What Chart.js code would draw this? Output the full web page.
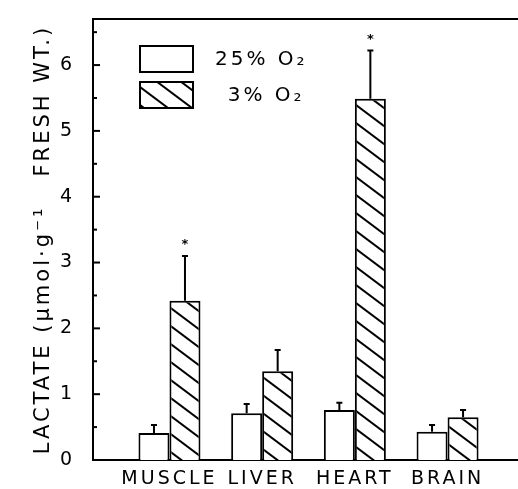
<!DOCTYPE html>
<html>
<head>
<meta charset="utf-8">
<script src="https://cdn.jsdelivr.net/npm/chart.js@4.4.1/dist/chart.umd.min.js"></script>
<style>
    html, body { margin: 0; padding: 0; background: #fff; }
    #wrap { width: 518px; height: 489px; }
</style>
</head>
<body>
<div id="wrap"><canvas id="lactateChart"></canvas></div>
<script>
// values
const tissues = ['MUSCLE', 'LIVER', 'HEART', 'BRAIN'];
const seriesLabels = ['25% O₂', '3% O₂'];
const normoxia = [0.41, 0.71, 0.76, 0.43];      // 25% O2
const normoxiaErr = [0.12, 0.14, 0.11, 0.10];
const hypoxia = [2.42, 1.35, 5.49, 0.65];       // 3% O2
const hypoxiaErr = [0.68, 0.32, 0.73, 0.11];
const hypoxiaSig = [true, false, true, false];  // asterisks

const FONT = "'DejaVu Sans', sans-serif";
const canvas = document.getElementById('lactateChart');
const ctx = canvas.getContext('2d');

function makeHatch() {
    const tile = document.createElement('canvas');
    tile.width = 24;
    tile.height = 18;
    const g = tile.getContext('2d');
    g.fillStyle = '#fff';
    g.fillRect(0, 0, 24, 18);
    g.strokeStyle = '#000';
    g.lineWidth = 2;
    [-18, 0, 18].forEach(off => {
        g.beginPath();
        g.moveTo(-2, off - 1.5);
        g.lineTo(26, off + 19.5);
        g.stroke();
    });
    return ctx.createPattern(tile, 'repeat');
}

const toPoints = arr => arr.map((v, i) => ({ x: i + 1, y: v }));

// wide letter spacing like the lettering of the figure
const spacing = {
    id: 'spacing',
    beforeUpdate(chart) { chart.ctx.letterSpacing = '3px'; },
    beforeDraw(chart) { chart.ctx.letterSpacing = '3px'; }
};

// top frame line and inward ticks on the y axis
const frame = {
    id: 'frame',
    afterDraw(chart) {
        const c = chart.ctx;
        const area = chart.chartArea;
        const y = chart.scales.y;
        c.save();
        c.strokeStyle = '#000';
        c.lineWidth = 2;
        c.beginPath();
        c.moveTo(area.left, area.top);
        c.lineTo(area.right, area.top);
        c.stroke();
        y.ticks.forEach(t => {
            const py = y.getPixelForValue(t.value);
            const len = Number.isInteger(t.value) ? 7 : 4;
            c.beginPath();
            c.moveTo(area.left, py);
            c.lineTo(area.left + len, py);
            c.stroke();
        });
        c.restore();
    }
};

// upper SD bars and asterisks
const errorBars = {
    id: 'errorBars',
    afterDatasetsDraw(chart) {
        const c = chart.ctx;
        const y = chart.scales.y;
        const errs = [normoxiaErr, hypoxiaErr];
        c.save();
        c.strokeStyle = '#000';
        c.fillStyle = '#000';
        c.lineWidth = 2;
        c.letterSpacing = '0px';
        c.font = 'bold 13px ' + FONT;
        c.textAlign = 'center';
        c.textBaseline = 'middle';
        chart.data.datasets.forEach((ds, d) => {
            chart.getDatasetMeta(d).data.forEach((bar, i) => {
                const top = y.getPixelForValue(ds.data[i].y + errs[d][i]);
                c.beginPath();
                c.moveTo(bar.x, bar.y);
                c.lineTo(bar.x, top);
                c.moveTo(bar.x - 3, top);
                c.lineTo(bar.x + 3, top);
                c.stroke();
                if (d === 1 && hypoxiaSig[i]) {
                    c.fillText('*', bar.x, top - 11);
                }
            });
        });
        c.restore();
    }
};

// legend boxes inside the plot, like the original
const boxLegend = {
    id: 'boxLegend',
    afterDraw(chart) {
        const c = chart.ctx;
        c.save();
        c.font = '20px ' + FONT;
        c.textBaseline = 'middle';
        const shift = c.measureText('2').width - 3;
        chart.data.datasets.forEach((ds, d) => {
            const bx = 140, by = 46 + d * 36;
            c.fillStyle = ds.backgroundColor;
            c.fillRect(bx, by, 53, 26);
            c.strokeStyle = '#000';
            c.lineWidth = 2;
            c.strokeRect(bx, by, 53, 26);
            c.fillStyle = '#000';
            c.fillText(ds.label, 215 + (d === 1 ? shift : 0), by + 14);
        });
        c.restore();
    }
};

const chart = new Chart(ctx, {
    type: 'bar',
    data: {
        datasets: [{
            label: seriesLabels[0],
            data: toPoints(normoxia),
            backgroundColor: '#fff',
            borderColor: '#000',
            borderWidth: 2
        }, {
            label: seriesLabels[1],
            data: toPoints(hypoxia),
            backgroundColor: makeHatch(),
            borderColor: '#000',
            borderWidth: 2
        }]
    },
    options: {
        responsive: true,
        maintainAspectRatio: false,
        animation: false,
        categoryPercentage: 0.669,
        barPercentage: 1.0,
        layout: {
            padding: { top: 19, left: 0, right: 0, bottom: 0 }
        },
        plugins: {
            legend: { display: false },
            tooltip: { enabled: false }
        },
        scales: {
            x: {
                type: 'linear',
                min: 0.175,
                max: 4.76,
                offset: false,
                grid: { display: false, drawTicks: false },
                border: { display: true, color: '#000', width: 2 },
                afterBuildTicks: scale => {
                    scale.ticks = tissues.map((t, i) => ({ value: i + 1 }));
                },
                afterFit: scale => {
                    scale.height = 29;
                    scale.paddingLeft = 0;
                    scale.paddingRight = 0;
                },
                ticks: {
                    autoSkip: false,
                    maxRotation: 0,
                    color: '#000',
                    padding: 8,
                    font: { family: FONT, size: 19 },
                    callback: (value, index) => tissues[index]
                }
            },
            y: {
                min: 0,
                max: 6.7,
                grid: { display: false, drawTicks: false },
                border: { display: true, color: '#000', width: 2 },
                afterFit: scale => {
                    scale.width = 93;
                    scale.paddingTop = 0;
                    scale.paddingBottom = 0;
                },
                ticks: {
                    stepSize: 0.5,
                    includeBounds: false,
                    color: '#000',
                    padding: 18,
                    font: { family: FONT, size: 19 },
                    callback: v => Number.isInteger(v) ? v : ''
                },
                title: {
                    display: true,
                    text: 'LACTATE (μmol·g⁻¹   FRESH WT.)',
                    color: '#000',
                    font: { family: FONT, size: 21 },
                    padding: { top: 31, bottom: 0 }
                }
            }
        }
    },
    plugins: [spacing, frame, errorBars, boxLegend]
});
</script>
</body>
</html>
